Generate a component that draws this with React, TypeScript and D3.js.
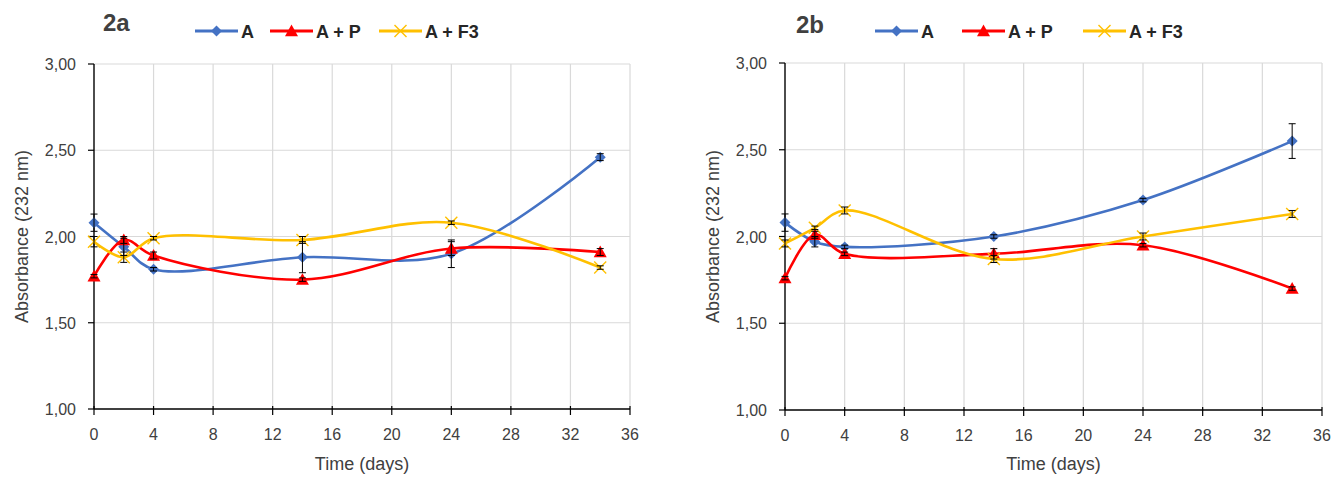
import React from "react";
import * as d3 from "d3";

const days = [0, 2, 4, 14, 24, 34];
const seriesNames = ["A", "A + P", "A + F3"];
const seriesColors = ["#4472C4", "#FF0000", "#FFC000"];
const xTicks = [0, 4, 8, 12, 16, 20, 24, 28, 32, 36];
const yTicks = [1, 1.5, 2, 2.5, 3];

// Panel 2a
const a2a = [2.08, 1.94, 1.81, 1.88, 1.9, 2.46];
const ap2a = [1.77, 1.98, 1.89, 1.75, 1.93, 1.91];
const af2a = [1.97, 1.88, 1.99, 1.98, 2.08, 1.82];
const aErr2a = [0.05, 0.05, 0.01, 0.09, 0.08, 0.02];
const apErr2a = [0.01, 0.02, 0.02, 0.01, 0.04, 0.02];
const afErr2a = [0.03, 0.03, 0.01, 0.02, 0.01, 0.01];

// Panel 2b
const a2b = [2.08, 1.97, 1.94, 2.0, 2.21, 2.55];
const ap2b = [1.76, 2.01, 1.9, 1.9, 1.95, 1.7];
const af2b = [1.96, 2.05, 2.15, 1.87, 2.0, 2.13];
const aErr2b = [0.05, 0.03, 0.01, 0.01, 0.01, 0.1];
const apErr2b = [0.01, 0.02, 0.01, 0.03, 0.01, 0.01];
const afErr2b = [0.02, 0.01, 0.02, 0.02, 0.02, 0.02];

const FONT = "'Liberation Sans', Arial, sans-serif";
const fmt = (v: number) => v.toFixed(2).replace(".", ",");

function Marker({ kind, x, y, color }: { kind: number; x: number; y: number; color: string }) {
  if (kind === 0) {
    const s = 5.5;
    return <path d={`M${x},${y - s}L${x + s},${y}L${x},${y + s}L${x - s},${y}Z`} fill={color} />;
  }
  if (kind === 1) {
    const s = 6.5;
    return <path d={`M${x},${y - s}L${x + s},${y + s * 0.8}L${x - s},${y + s * 0.8}Z`} fill={color} />;
  }
  const s = 6;
  return (
    <g stroke={color} strokeWidth={1.4}>
      <line x1={x - s} y1={y - s} x2={x + s} y2={y + s} />
      <line x1={x - s} y1={y + s} x2={x + s} y2={y - s} />
    </g>
  );
}

type PanelProps = {
  title: string;
  left: number;
  right: number;
  top: number;
  bottom: number;
  series: number[][];
  errs: number[][];
  legendX: number[];
  titleX: number;
  titleY: number;
  legendY: number;
};

function Panel({ title, left, right, top, bottom, series, errs, legendX, titleX, titleY, legendY }: PanelProps) {
  const x = d3.scaleLinear().domain([0, 36]).range([left, right]);
  const y = d3.scaleLinear().domain([1, 3]).range([bottom, top]);
  const line = d3
    .line<number>()
    .x((_, i) => x(days[i]))
    .y((d) => y(d))
    .curve(d3.curveCatmullRom.alpha(0.5));
  return (
    <g fontFamily={FONT}>
      {xTicks.slice(1).map((t) => (
        <line key={"gx" + t} x1={x(t)} x2={x(t)} y1={top} y2={bottom} stroke="#D9D9D9" strokeWidth={1.2} />
      ))}
      {yTicks.slice(1).map((t) => (
        <line key={"gy" + t} x1={left} x2={right} y1={y(t)} y2={y(t)} stroke="#D9D9D9" strokeWidth={1.2} />
      ))}
      <line x1={left} x2={left} y1={top} y2={bottom} stroke="#000" strokeWidth={1.4} />
      <line x1={left} x2={right} y1={bottom} y2={bottom} stroke="#000" strokeWidth={1.4} />
      {xTicks.map((t) => (
        <g key={"tx" + t}>
          <line x1={x(t)} x2={x(t)} y1={bottom - 3} y2={bottom + 6} stroke="#000" strokeWidth={1.2} />
          <text x={x(t)} y={bottom + 31} textAnchor="middle" fontSize={16} fill="#404040">
            {t}
          </text>
        </g>
      ))}
      {yTicks.map((t) => (
        <g key={"ty" + t}>
          <line x1={left - 6} x2={left} y1={y(t)} y2={y(t)} stroke="#000" strokeWidth={1.2} />
          <text x={left - 18} y={y(t) + 6} textAnchor="end" fontSize={16} fill="#404040">
            {fmt(t)}
          </text>
        </g>
      ))}
      <text x={(left + right) / 2} y={470} textAnchor="middle" fontSize={18} fill="#404040">
        Time (days)
      </text>
      <text
        transform={`translate(${left - 66},${(top + bottom) / 2}) rotate(-90)`}
        textAnchor="middle"
        fontSize={18}
        fill="#404040"
      >
        Absorbance (232 nm)
      </text>
      <text x={titleX} y={titleY} fontSize={24} fontWeight="bold" fill="#404040">
        {title}
      </text>
      {seriesNames.map((n, i) => (
        <g key={"lg" + i}>
          <line x1={legendX[i]} x2={legendX[i] + 43} y1={legendY} y2={legendY} stroke={seriesColors[i]} strokeWidth={3} />
          <Marker kind={i} x={legendX[i] + 21.5} y={legendY} color={seriesColors[i]} />
          <text x={legendX[i] + 46} y={legendY + 6.5} fontSize={18} fontWeight="bold" fill="#262626">
            {n}
          </text>
        </g>
      ))}
      {series.map((s, i) => (
        <g key={"s" + i}>
          <path d={line(s) || ""} fill="none" stroke={seriesColors[i]} strokeWidth={2.6} />
          {s.map((v, j) => (
            <Marker key={j} kind={i} x={x(days[j])} y={y(v)} color={seriesColors[i]} />
          ))}
        </g>
      ))}
      {series.map((s, i) =>
        s.map((v, j) => {
          const e = errs[i][j];
          const cx = x(days[j]);
          const y1 = y(v + e);
          const y2 = y(v - e);
          return (
            <g key={`e${i}-${j}`} stroke="#000" strokeWidth={1}>
              <line x1={cx} x2={cx} y1={y1} y2={y2} />
              <line x1={cx - 3.5} x2={cx + 3.5} y1={y1} y2={y1} />
              <line x1={cx - 3.5} x2={cx + 3.5} y1={y2} y2={y2} />
            </g>
          );
        })
      )}
    </g>
  );
}

export default function App() {
  return (
    <svg width={1333} height={477} style={{ position: "absolute", left: 0, top: 0, background: "#fff" }}>
      <rect width={1333} height={477} fill="#fff" />
      <Panel
        title="2a"
        left={94}
        right={630}
        top={64}
        bottom={409}
        series={[a2a, ap2a, af2a]}
        errs={[aErr2a, apErr2a, afErr2a]}
        legendX={[195, 270, 379]}
        titleX={103}
        titleY={31}
        legendY={31}
      />
      <Panel
        title="2b"
        left={785}
        right={1322}
        top={63}
        bottom={410}
        series={[a2b, ap2b, af2b]}
        errs={[aErr2b, apErr2b, afErr2b]}
        legendX={[875, 962, 1083]}
        titleX={796}
        titleY={33}
        legendY={31}
      />
    </svg>
  );
}
